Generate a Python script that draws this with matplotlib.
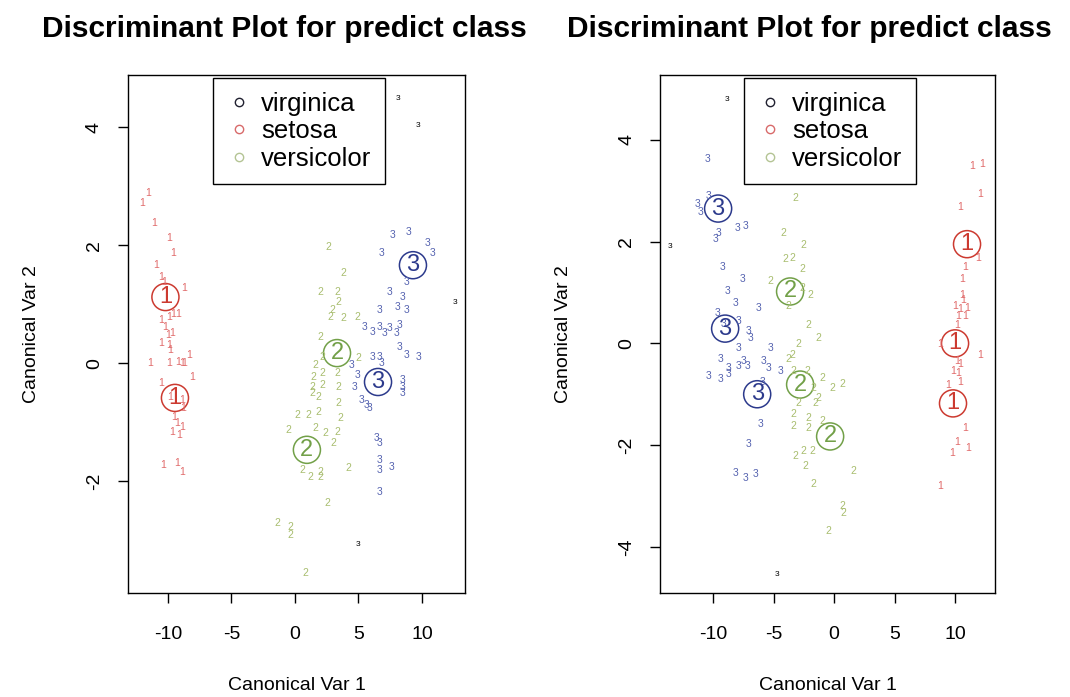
import matplotlib.pyplot as plt
from matplotlib.lines import Line2D

plt.rcParams['font.family'] = ['Liberation Sans', 'DejaVu Sans']
plt.rcParams['axes.unicode_minus'] = False

# ---- left panel data (Canonical Var 1, Canonical Var 2) ----
left_x1 = [-11.6, -12.0, -11.1, -9.9, -9.6, -10.9, -10.5, -10.3, -8.7, -10.5, -9.9, -9.6, -9.2,
           -10.2, -10.0, -9.7, -10.5, -9.9, -9.8, -11.4, -9.9, -9.2, -8.9, -8.7, -8.3, -8.1,
           -10.5, -9.8, -8.9, -8.8, -9.5, -9.3, -8.9, -9.7, -9.1, -10.4, -9.3, -8.9]
left_y1 = [2.88, 2.71, 2.37, 2.12, 1.86, 1.66, 1.46, 1.37, 1.27, 0.73, 0.78, 0.83, 0.83,
           0.61, 0.47, 0.51, 0.34, 0.31, 0.22, 0.0, 0.0, 0.02, 0.0, 0.0, 0.14, -0.24,
           -0.34, -0.58, -0.63, -0.76, -0.92, -1.02, -1.08, -1.17, -1.22, -1.73, -1.69, -1.85]
left_x2 = [2.60, 3.78, 1.97, 3.31, 3.39, 2.91, 2.76, 3.78, 4.88, 1.97, 2.13, 4.96, 1.57, 2.13,
           3.31, 1.42, 1.34, 1.34, 2.13, 3.39, 1.81, 3.39, 0.16, 1.02, 1.81, 3.54, -0.55, 1.57,
           2.36, 3.31, 2.99, 0.55, 1.18, 1.97, 1.97, 4.17, 2.52, -1.42, -0.39, -0.39, 0.79]
left_y2 = [1.97, 1.53, 1.20, 1.20, 1.03, 0.90, 0.78, 0.76, 0.78, 0.44, 0.10, 0.08, -0.03, -0.17,
           -0.17, -0.24, -0.41, -0.51, -0.37, -0.41, -0.58, -0.68, -0.88, -0.88, -0.83, -0.93,
           -1.14, -1.10, -1.19, -1.17, -1.36, -1.81, -1.93, -1.93, -1.85, -1.78, -2.37, -2.71,
           -2.78, -2.92, -3.56]
left_x3 = [7.72, 8.98, 10.47, 10.87, 6.85, 8.82, 7.48, 8.43, 8.11, 8.82, 6.69, 5.51, 6.69, 6.14,
           7.09, 7.48, 8.03, 8.27, 8.27, 8.82, 9.69, 6.14, 6.69, 6.85, 4.49, 4.96, 4.72, 8.43,
           8.43, 8.43, 5.28, 5.67, 5.91, 6.46, 6.69, 6.69, 7.64, 6.69, 6.69]
left_y3 = [2.17, 2.22, 2.03, 1.86, 1.86, 1.37, 1.20, 1.12, 0.95, 0.90, 0.90, 0.61, 0.61, 0.53,
           0.51, 0.59, 0.51, 0.64, 0.27, 0.14, 0.10, 0.10, 0.10, 0.0, -0.03, -0.20, -0.41, -0.29,
           -0.41, -0.51, -0.63, -0.71, -0.76, -1.27, -1.36, -1.64, -1.76, -1.81, -2.19]
left_xk = [8.11, 9.69, 12.6, 4.96]
left_yk = [4.49, 4.03, 1.02, -3.08]
left_cx = [-10.2, -9.45, 3.31, 0.94, 9.29, 6.54]
left_cy = [1.12, -0.59, 0.17, -1.47, 1.66, -0.32]
left_cl = [1, 1, 2, 2, 3, 3]

# ---- right panel data ----
right_x1 = [11.40, 12.23, 12.07, 10.41, 11.90, 10.83, 10.58, 10.58, 10.66, 10.0, 10.41, 10.99,
            10.25, 10.83, 10.17, 8.76, 12.07, 10.17, 10.41, 9.83, 10.25, 10.41, 9.42, 10.83,
            10.17, 11.07, 9.75, 8.76]
right_y1 = [3.48, 3.52, 2.93, 2.69, 1.67, 1.51, 1.26, 0.96, 0.86, 0.73, 0.67, 0.69, 0.53, 0.53,
            0.37, -0.02, -0.22, -0.35, -0.41, -0.55, -0.59, -0.75, -0.81, -1.67, -1.93, -2.06,
            -2.16, -2.81]
right_x2 = [-3.22, -4.21, -2.56, -4.05, -3.47, -2.64, -5.29, -2.64, -1.98, -3.80, -2.15, -1.32,
            -2.98, -3.47, -3.80, -3.39, -2.23, -0.99, -1.74, -1.32, -0.17, 0.66, -2.98, -1.57,
            -3.39, -2.15, -0.99, -3.39, -2.15, -3.22, -2.56, -1.82, -2.40, -1.74, 1.57, 0.66,
            0.74, -0.50]
right_y2 = [2.85, 2.16, 1.94, 1.65, 1.67, 1.47, 1.22, 1.08, 0.96, 0.73, 0.37, 0.10, -0.02, -0.22,
            -0.31, -0.55, -0.55, -0.69, -0.88, -1.08, -0.88, -0.79, -1.18, -1.18, -1.39, -1.47,
            -1.53, -1.63, -1.67, -2.22, -2.12, -2.12, -2.42, -2.77, -2.51, -3.20, -3.34, -3.69]
right_x3 = [-10.50, -10.41, -11.32, -11.07, -8.02, -7.36, -9.83, -9.59, -9.26, -7.60, -8.84,
            -8.18, -9.67, -6.28, -9.17, -7.93, -7.11, -6.94, -7.93, -5.29, -9.42, -8.76, -7.93,
            -7.52, -7.19, -5.87, -5.45, -4.46, -10.41, -9.42, -8.76, -5.95, -6.12, -7.11, -8.18,
            -7.36, -6.53]
right_y3 = [3.63, 2.89, 2.73, 2.59, 2.26, 2.30, 2.06, 2.16, 1.51, 1.26, 1.02, 0.79, 0.59, 0.69,
            0.39, 0.43, 0.24, 0.10, -0.10, -0.10, -0.31, -0.49, -0.45, -0.35, -0.45, -0.35, -0.49,
            -0.55, -0.65, -0.71, -0.61, -0.75, -1.59, -1.98, -2.55, -2.65, -2.57]
right_xk = [-8.84, -13.55, -4.71]
right_yk = [4.79, 1.91, -4.54]
right_cx = [10.99, 10.0, 9.83, -3.64, -2.81, -0.33, -9.59, -9.01, -6.36]
right_cy = [1.95, 0.0, -1.18, 1.02, -0.81, -1.83, 2.65, 0.29, -1.00]
right_cl = [1, 1, 1, 2, 2, 2, 3, 3, 3]

species = ['virginica', 'setosa', 'versicolor']
legend_colors = ['#202030', '#d86a6a', '#b4c494']
point_colors = {1: '#e06a6a', 2: '#a8bd6e', 3: '#5563b0'}
center_colors = {1: '#cc3a30', 2: '#72a048', 3: '#2c3a8c'}


def draw_panel(ax, groups, black, centers, xlim, ylim, yticks):
    for cls, (xs, ys) in groups.items():
        for x, y in zip(xs, ys):
            ax.text(x, y, str(cls), color=point_colors[cls], fontsize=7.5,
                    ha='center', va='center')
    for x, y in zip(*black):
        ax.text(x, y, '3', color='black', fontsize=6, ha='center', va='center')
    cx, cy, cl = centers
    for x, y, c in zip(cx, cy, cl):
        ax.scatter(x, y, s=380, facecolors='none', edgecolors=center_colors[c], linewidths=1.1)
        ax.text(x, y, str(c), color=center_colors[c], fontsize=17,
                ha='center', va='center')
    ax.set_xlim(xlim)
    ax.set_ylim(ylim)
    ax.set_xticks([-10, -5, 0, 5, 10])
    ax.set_yticks(yticks)
    ax.tick_params(axis='both', labelsize=14, length=7, width=1)
    ax.tick_params(axis='x', pad=17)
    ax.tick_params(axis='y', pad=11)
    for lab in ax.get_yticklabels():
        lab.set_rotation(90)
        lab.set_va('center')
    ax.set_xlabel('Canonical Var 1', fontsize=14, labelpad=24)
    ax.set_ylabel('Canonical Var 2', fontsize=14, labelpad=33)
    for s in ax.spines.values():
        s.set_linewidth(1)
    handles = [Line2D([], [], marker='o', linestyle='none', markersize=6,
                      markerfacecolor='none', markeredgecolor=c, markeredgewidth=1)
               for c in legend_colors]
    leg = ax.legend(handles, species, loc='upper center', bbox_to_anchor=(0.507, 0.994),
                    borderaxespad=0, fontsize=18.5, frameon=True, fancybox=False, framealpha=1,
                    labelspacing=0.14, handletextpad=0.35, borderpad=0.52, handlelength=1.0)
    leg.get_frame().set_edgecolor('black')
    leg.get_frame().set_linewidth(1)


fig = plt.figure(figsize=(10.7, 6.97), dpi=100)
ax1 = fig.add_axes([0.1196, 0.149, 0.315, 0.743])
ax2 = fig.add_axes([0.617, 0.149, 0.313, 0.743])

draw_panel(ax1, {1: (left_x1, left_y1), 2: (left_x2, left_y2), 3: (left_x3, left_y3)},
           (left_xk, left_yk), (left_cx, left_cy, left_cl),
           (-13.15, 13.39), (-3.90, 4.88), [-2, 0, 2, 4])
draw_panel(ax2, {1: (right_x1, right_y1), 2: (right_x2, right_y2), 3: (right_x3, right_y3)},
           (right_xk, right_yk), (right_cx, right_cy, right_cl),
           (-14.38, 13.31), (-4.91, 5.27), [-4, -2, 0, 2, 4])

fig.text(0.266, 0.958, 'Discriminant Plot for predict class', fontsize=21.5, fontweight='bold',
         ha='center', va='center')
fig.text(0.756, 0.958, 'Discriminant Plot for predict class', fontsize=21.5, fontweight='bold',
         ha='center', va='center')

fig.savefig('out.png', dpi=100)
